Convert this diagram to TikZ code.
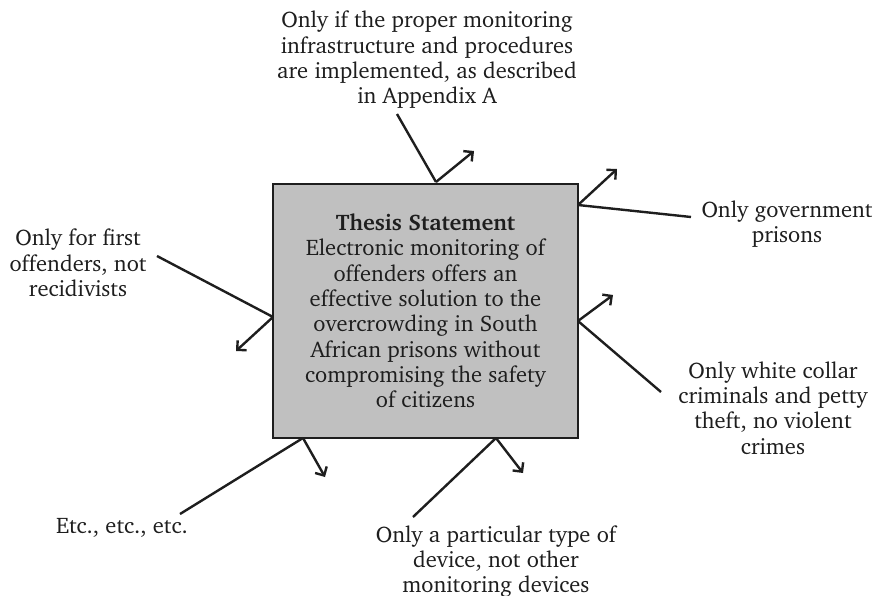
\documentclass[tikz,border=0pt]{standalone}
\usepackage[T1]{fontenc}
\usepackage{charter}
\usetikzlibrary{arrows.meta}
\definecolor{boxgray}{RGB}{192,192,192}
\definecolor{ink}{RGB}{30,30,30}
\tikzset{
  lbl/.style={align=center, inner sep=0pt, text=ink, font=\fontsize{16.9}{19}\selectfont},
  thesis/.style={draw=ink, line width=2.2pt, fill=boxgray, minimum width=228.75pt, minimum height=190.5pt, inner sep=0pt, align=center, text=ink, font=\fontsize{16.9}{19}\selectfont},
  conn/.style={draw=ink, line width=1.8pt},
  bounce/.style={draw=ink, line width=1.8pt, -{Straight Barb[length=5pt,width=10pt,line width=1.8pt]}}
}
\begin{document}
\begin{tikzpicture}[x=0.75pt, y=-0.75pt]
\useasboundingbox (0,0) rectangle (875,596);
% central box
\node[thesis] (box) at (425.5,311) {\textbf{Thesis Statement}\\Electronic monitoring of\\offenders offers an\\effective solution to the\\overcrowding in South\\African prisons without\\compromising the safety\\of citizens};
% labels
\node[lbl] (top) at (427,60) {Only if the proper monitoring\\infrastructure and procedures\\are implemented, as described\\in Appendix A};
\node[lbl] (gov) at (787,224) {Only government\\prisons};
\node[lbl] (first) at (78,263) {Only for first\\offenders, not\\recidivists};
\node[lbl] (white) at (773,408) {Only white collar\\criminals and petty\\theft, no violent\\crimes};
\node[lbl] (etc) at (122,528) {Etc., etc., etc.};
\node[lbl] (dev) at (496,561.5) {Only a particular type of\\device, not other\\monitoring devices};
% connector coordinates
\coordinate (s1) at (397,114); \coordinate (h1) at (436,182); \coordinate (t1) at (474,151);
\coordinate (s2) at (691,217); \coordinate (h2) at (578,205); \coordinate (t2) at (617,169);
\coordinate (s3) at (157,256); \coordinate (h3) at (273,317); \coordinate (t3) at (236,351);
\coordinate (s4) at (661,392); \coordinate (h4) at (578,321); \coordinate (t4) at (613,295);
\coordinate (s5) at (180,514); \coordinate (h5) at (303,438); \coordinate (t5) at (325,477);
\coordinate (s6) at (413,517); \coordinate (h6) at (496,438); \coordinate (t6) at (523,473);
\foreach \i in {1,...,6}{
  \draw[conn] (s\i) -- (h\i);
  \draw[bounce] (h\i) -- (t\i);
}
\end{tikzpicture}
\end{document}
